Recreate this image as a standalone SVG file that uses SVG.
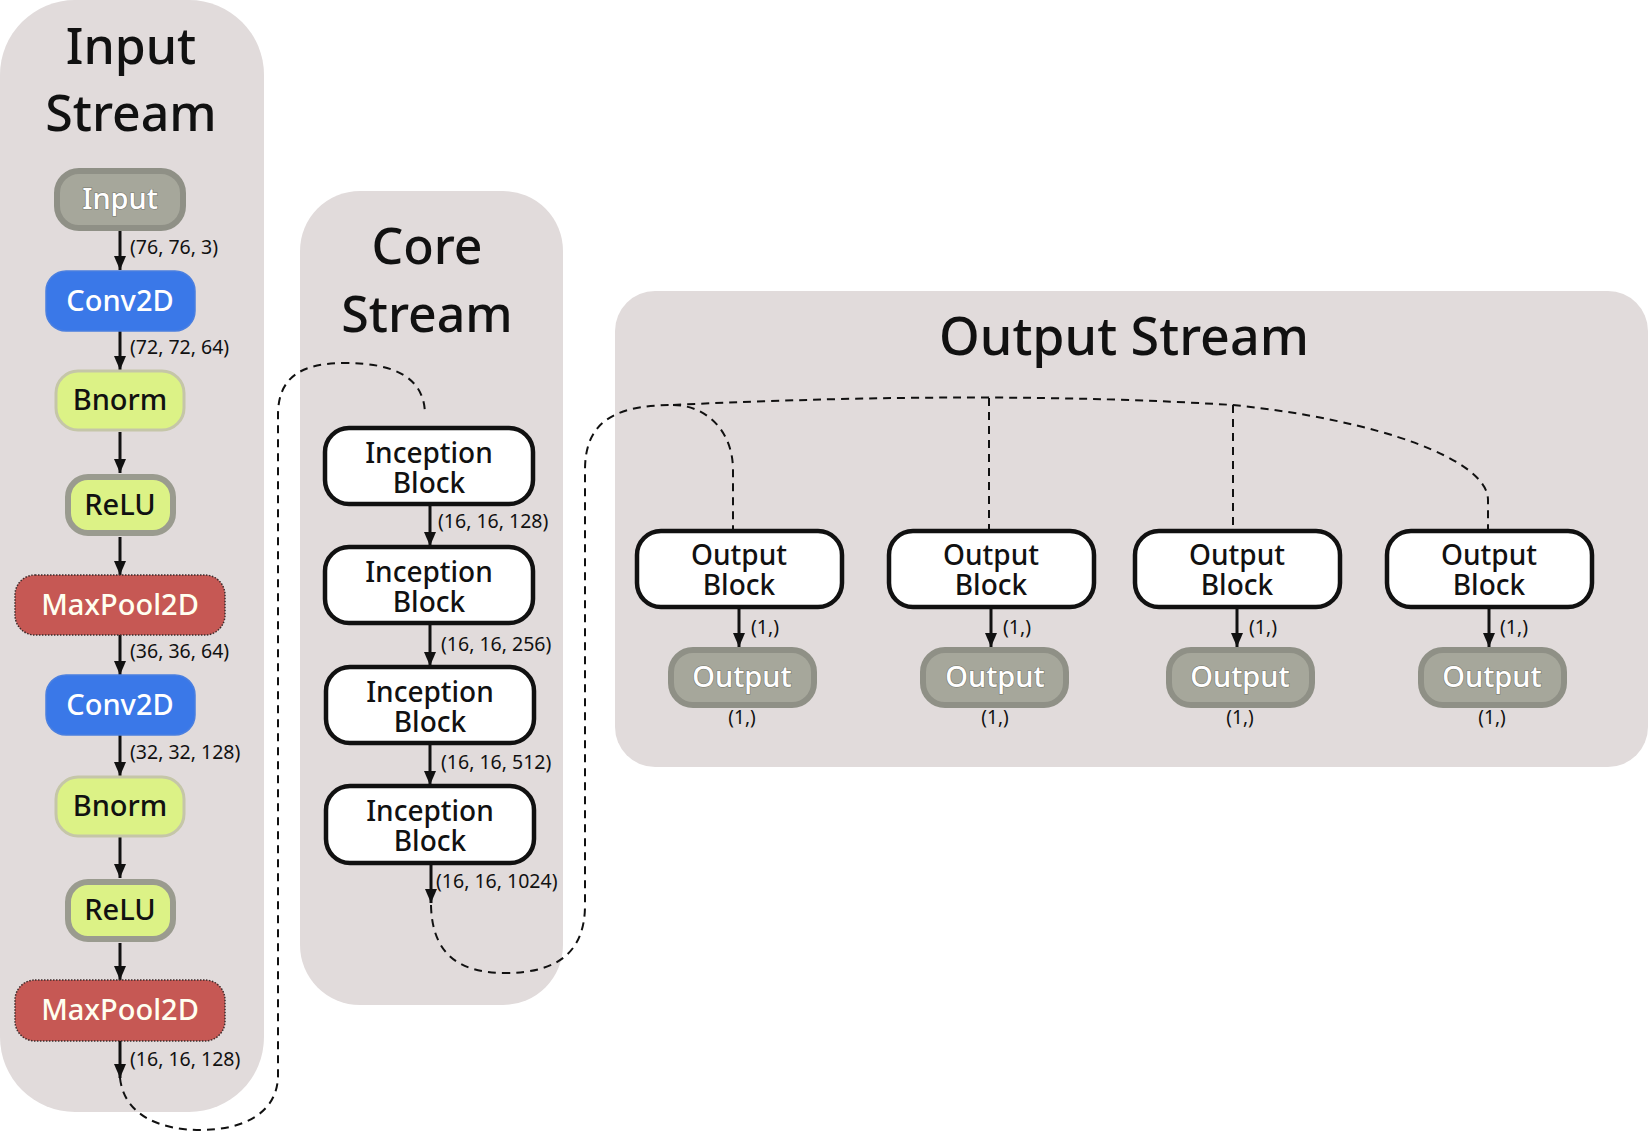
<svg xmlns="http://www.w3.org/2000/svg" width="1648" height="1132" viewBox="0 0 1648 1132">
<defs>
<marker id="ah" viewBox="0 0 14 12" refX="14" refY="6" markerWidth="14" markerHeight="12" markerUnits="userSpaceOnUse" orient="auto">
<path d="M0,0 L14,6 L0,12 z" fill="#111"/>
</marker>
<style>
.panel{fill:#e1dbdb}
.title{font-family:"Noto Sans","Open Sans",sans-serif;font-size:50px;font-weight:500;fill:#111;text-anchor:middle}
.nt{font-family:"Noto Sans","Open Sans",sans-serif;font-size:29px;font-weight:500;text-anchor:middle}
.bt{font-family:"Noto Sans","Open Sans",sans-serif;font-size:28px;font-weight:500;text-anchor:middle;fill:#111}
.lbl{font-family:"Noto Sans","Open Sans",sans-serif;font-size:19.5px;fill:#111}
.lblc{font-family:"Noto Sans","Open Sans",sans-serif;font-size:19px;fill:#111;text-anchor:middle}
.gray{fill:#a6a79b;stroke:#8f9086;stroke-width:6}
.grayt{fill:#fff;stroke:#77786e;stroke-width:1.2;paint-order:stroke}
.conv{fill:#3a78e8;stroke:#4a7fe0;stroke-width:1.5}
.bn{fill:#dcf286;stroke:#c5c6a8;stroke-width:3}
.relu{fill:#dcf286;stroke:#9a9b8f;stroke-width:6}
.mp{fill:#c65854;stroke:#3d2b2b;stroke-width:1.5;stroke-dasharray:1.5 1.5}
.blk{fill:#fff;stroke:#111;stroke-width:4.5}
.arr{stroke:#111;stroke-width:3;fill:none;marker-end:url(#ah)}
.dash{stroke:#111;stroke-width:2;fill:none;stroke-dasharray:8 6}
</style>
</defs>

<g id="panels">
<rect id="input-stream" class="panel" x="0" y="0" width="264" height="1112" rx="75"/>
<rect id="core-stream" class="panel" x="300" y="191" width="263" height="814" rx="60"/>
<rect id="output-stream" class="panel" x="615" y="291" width="1033" height="476" rx="40"/>
<text class="title" x="131" y="64"><tspan x="131" y="64">Input</tspan><tspan x="131" y="131">Stream</tspan></text>
<text class="title" x="427" y="264"><tspan x="427" y="264">Core</tspan><tspan x="427" y="332">Stream</tspan></text>
<text class="title" x="1124" y="355" style="font-size:52px">Output Stream</text>
</g>

<g id="connectors">
<line class="arr" x1="120" y1="231" x2="120" y2="270"/>
<line class="arr" x1="120" y1="331" x2="120" y2="370"/>
<line class="arr" x1="120" y1="432" x2="120" y2="473"/>
<line class="arr" x1="120" y1="537" x2="120" y2="575"/>
<line class="arr" x1="120" y1="635" x2="120" y2="675"/>
<line class="arr" x1="120" y1="735" x2="120" y2="776"/>
<line class="arr" x1="120" y1="837" x2="120" y2="878"/>
<line class="arr" x1="120" y1="943" x2="120" y2="980"/>
<line class="arr" x1="120" y1="1041" x2="120" y2="1078"/>
<text class="lbl" x="130" y="254">(76, 76, 3)</text>
<text class="lbl" x="130" y="354">(72, 72, 64)</text>
<text class="lbl" x="130" y="658">(36, 36, 64)</text>
<text class="lbl" x="130" y="759">(32, 32, 128)</text>
<text class="lbl" x="130" y="1066">(16, 16, 128)</text>

<path class="dash" d="M120 1078 C124 1115 160 1130 200 1130 C245 1130 278 1112 278 1075 V415 C278 378 300 363 345 363 C395 363 425 378 425 415"/>

<line class="arr" x1="430" y1="504" x2="430" y2="546"/>
<line class="arr" x1="430" y1="623" x2="430" y2="666"/>
<line class="arr" x1="430" y1="743" x2="430" y2="785"/>
<line class="arr" x1="431" y1="863" x2="431" y2="903"/>
<text class="lbl" x="438" y="528">(16, 16, 128)</text>
<text class="lbl" x="441" y="651">(16, 16, 256)</text>
<text class="lbl" x="441" y="769">(16, 16, 512)</text>
<text class="lbl" x="436" y="888">(16, 16, 1024)</text>

<path class="dash" d="M431 905 C432 955 460 973 505 973 C560 973 585 950 585 905 V470 C585 425 610 405 673 405"/>
<path class="dash" d="M673 405 C705 405 733 430 733 470 V530"/>
<path class="dash" d="M673 405 Q990 390 1233 405 C1380 420 1488 460 1488 500 V530"/>
<line class="dash" x1="989" y1="398" x2="989" y2="530"/>
<line class="dash" x1="1233" y1="405" x2="1233" y2="530"/>

<line class="arr" x1="739" y1="608" x2="739" y2="647"/>
<line class="arr" x1="991" y1="608" x2="991" y2="647"/>
<line class="arr" x1="1237" y1="608" x2="1237" y2="647"/>
<line class="arr" x1="1489" y1="608" x2="1489" y2="647"/>
<text class="lbl" x="751" y="634">(1,)</text>
<text class="lbl" x="1003" y="634">(1,)</text>
<text class="lbl" x="1249" y="634">(1,)</text>
<text class="lbl" x="1500" y="634">(1,)</text>
<text class="lblc" x="742" y="724">(1,)</text>
<text class="lblc" x="995" y="724">(1,)</text>
<text class="lblc" x="1240" y="724">(1,)</text>
<text class="lblc" x="1492" y="724">(1,)</text>
</g>

<g id="node-input">
<rect class="gray" x="57" y="171" width="126" height="57" rx="22"/>
<text class="nt grayt" x="120" y="209">Input</text>
</g>
<g id="node-conv2d-1">
<rect class="conv" x="46" y="271" width="149" height="60" rx="20"/>
<text class="nt" x="120" y="311" fill="#fff">Conv2D</text>
</g>
<g id="node-bnorm-1">
<rect class="bn" x="56" y="371" width="128" height="59" rx="22"/>
<text class="nt" x="120" y="410" fill="#111">Bnorm</text>
</g>
<g id="node-relu-1">
<rect class="relu" x="68" y="477" width="105" height="56" rx="20"/>
<text class="nt" x="120" y="515" fill="#111">ReLU</text>
</g>
<g id="node-maxpool-1">
<rect class="mp" x="15" y="575" width="210" height="60" rx="20"/>
<text class="nt" x="120" y="615" fill="#fffff0">MaxPool2D</text>
</g>
<g id="node-conv2d-2">
<rect class="conv" x="46" y="675" width="149" height="60" rx="20"/>
<text class="nt" x="120" y="715" fill="#fff">Conv2D</text>
</g>
<g id="node-bnorm-2">
<rect class="bn" x="56" y="777" width="128" height="59" rx="22"/>
<text class="nt" x="120" y="816" fill="#111">Bnorm</text>
</g>
<g id="node-relu-2">
<rect class="relu" x="68" y="882" width="105" height="57" rx="20"/>
<text class="nt" x="120" y="920" fill="#111">ReLU</text>
</g>
<g id="node-maxpool-2">
<rect class="mp" x="15" y="980" width="210" height="61" rx="20"/>
<text class="nt" x="120" y="1020" fill="#fffff0">MaxPool2D</text>
</g>

<g id="node-inception-1">
<rect class="blk" x="325" y="428" width="208" height="76" rx="24"/>
<text class="bt"><tspan x="429" y="463">Inception</tspan><tspan x="429" y="493">Block</tspan></text>
</g>
<g id="node-inception-2">
<rect class="blk" x="325" y="547" width="208" height="76" rx="24"/>
<text class="bt"><tspan x="429" y="582">Inception</tspan><tspan x="429" y="612">Block</tspan></text>
</g>
<g id="node-inception-3">
<rect class="blk" x="326" y="667" width="208" height="76" rx="24"/>
<text class="bt"><tspan x="430" y="702">Inception</tspan><tspan x="430" y="732">Block</tspan></text>
</g>
<g id="node-inception-4">
<rect class="blk" x="326" y="786" width="208" height="77" rx="24"/>
<text class="bt"><tspan x="430" y="821">Inception</tspan><tspan x="430" y="851">Block</tspan></text>
</g>

<g id="node-outblock-1">
<rect class="blk" x="637" y="531" width="205" height="76" rx="24"/>
<text class="bt"><tspan x="739" y="565">Output</tspan><tspan x="739" y="595">Block</tspan></text>
</g>
<g id="node-outblock-2">
<rect class="blk" x="889" y="531" width="205" height="76" rx="24"/>
<text class="bt"><tspan x="991" y="565">Output</tspan><tspan x="991" y="595">Block</tspan></text>
</g>
<g id="node-outblock-3">
<rect class="blk" x="1135" y="531" width="205" height="76" rx="24"/>
<text class="bt"><tspan x="1237" y="565">Output</tspan><tspan x="1237" y="595">Block</tspan></text>
</g>
<g id="node-outblock-4">
<rect class="blk" x="1387" y="531" width="205" height="76" rx="24"/>
<text class="bt"><tspan x="1489" y="565">Output</tspan><tspan x="1489" y="595">Block</tspan></text>
</g>

<g id="node-output-1">
<rect class="gray" x="671" y="650" width="143" height="55" rx="22"/>
<text class="nt grayt" x="742" y="687">Output</text>
</g>
<g id="node-output-2">
<rect class="gray" x="923" y="650" width="143" height="55" rx="22"/>
<text class="nt grayt" x="995" y="687">Output</text>
</g>
<g id="node-output-3">
<rect class="gray" x="1169" y="650" width="143" height="55" rx="22"/>
<text class="nt grayt" x="1240" y="687">Output</text>
</g>
<g id="node-output-4">
<rect class="gray" x="1421" y="650" width="143" height="55" rx="22"/>
<text class="nt grayt" x="1492" y="687">Output</text>
</g>
</svg>
